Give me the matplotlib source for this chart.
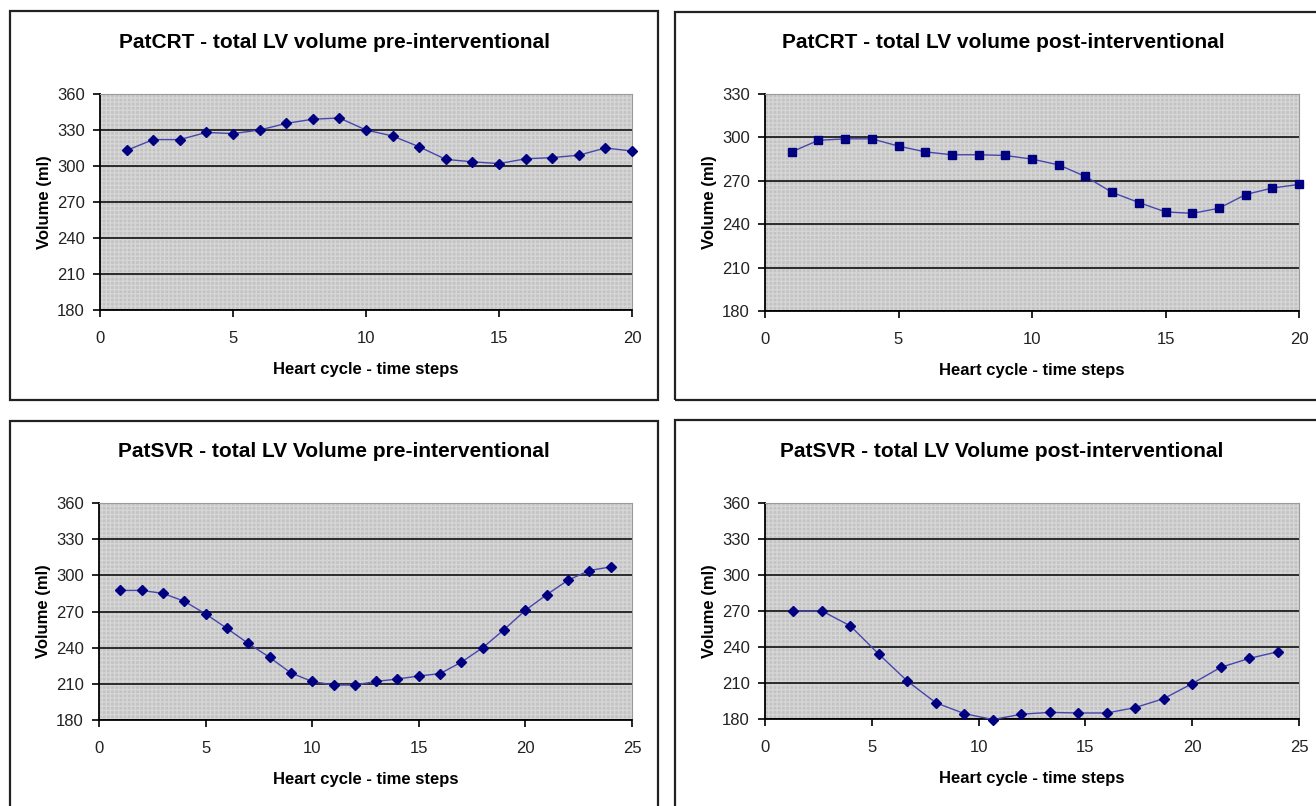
import matplotlib
matplotlib.use("Agg")
import matplotlib.pyplot as plt
from matplotlib.patches import Rectangle

plt.rcParams["font.family"] = ["Liberation Sans", "DejaVu Sans"]

# PatCRT pre-interventional
crt_pre_steps = list(range(1, 21))
crt_pre_volume = [313, 322, 322, 328, 327, 330, 335.5, 339, 340, 330,
                  325, 316, 305.5, 303.5, 302, 306, 307, 309, 315, 312.5]

# PatCRT post-interventional
crt_post_steps = list(range(1, 21))
crt_post_volume = [290, 298, 299, 299, 294, 290, 288, 288, 287.5, 285,
                   281, 273, 262, 255, 248.5, 247.5, 251, 260.5, 265, 267.5]

# PatSVR pre-interventional
svr_pre_steps = list(range(1, 25))
svr_pre_volume = [287.5, 287.5, 285, 278.5, 268, 256, 243.5, 232, 219, 212,
                  209, 209, 212, 214, 216.5, 218.5, 228, 240, 255, 271,
                  284, 296, 304, 307]

# PatSVR post-interventional (18 frames spread over 24 steps)
svr_post_steps = [1.33, 2.67, 4.0, 5.33, 6.67, 8.0, 9.33, 10.67, 12.0,
                  13.33, 14.67, 16.0, 17.33, 18.67, 20.0, 21.33, 22.67, 24.0]
svr_post_volume = [270, 270, 257.5, 234, 211.5, 193.5, 184.5, 179.5, 184,
                   185.5, 185, 185, 189.5, 197, 209.5, 223, 230.5, 236]

titles = [
    "PatCRT - total LV volume pre-interventional",
    "PatCRT - total LV volume post-interventional",
    "PatSVR - total LV Volume pre-interventional",
    "PatSVR - total LV Volume post-interventional",
]
x_label = "Heart cycle - time steps"
y_label = "Volume (ml)"

W, H = 1316, 806


def px_rect(x0, y0, x1, y1):
    """pixel box (top-down) -> figure fraction [left, bottom, width, height]"""
    return [x0 / W, 1 - y1 / H, (x1 - x0) / W, (y1 - y0) / H]


fig = plt.figure(figsize=(W / 100, H / 100), dpi=100)

# chart frames
for box in [(10, 11, 658, 400), (675, 12, 1340, 400),
            (10, 421, 658, 830), (675, 420, 1340, 830)]:
    l, b, w, h = px_rect(*box)
    fig.patches.append(Rectangle((l, b), w, h, transform=fig.transFigure,
                                 fill=False, edgecolor="#222222", linewidth=1.6))

# (axes box, x, y, marker, marker size, y range, x max, title x in axes coords)
panels = [
    (px_rect(100, 94, 632, 310), crt_pre_steps, crt_pre_volume, "D", 5.0, (180, 360), 20, 0.44),
    (px_rect(765, 94, 1299, 311), crt_post_steps, crt_post_volume, "s", 6.0, (180, 330), 20, 0.446),
    (px_rect(99, 503, 632, 720), svr_pre_steps, svr_pre_volume, "D", 5.0, (180, 360), 25, 0.44),
    (px_rect(765, 503, 1299, 719), svr_post_steps, svr_post_volume, "D", 5.0, (180, 360), 25, 0.443),
]

for (rect, xs, ys, marker, ms, ylim, xmax, tx), title in zip(panels, titles):
    ax = fig.add_axes(rect)
    ax.set_facecolor("#c3c3c3")
    ax.add_patch(Rectangle((0, 0), 1, 1, transform=ax.transAxes, facecolor="none",
                           edgecolor="#d6d6d6", hatch="++++", linewidth=0, zorder=0.5))
    ax.plot(xs, ys, color="#4646b0", linewidth=1.0, marker=marker, markersize=ms,
            markerfacecolor="#000080", markeredgecolor="#000080", zorder=3,
            clip_on=False)
    ax.set_xlim(0, xmax)
    ax.set_ylim(*ylim)
    ax.set_xticks(range(0, xmax + 1, 5))
    ax.set_yticks(range(ylim[0], ylim[1] + 1, 30))
    ax.yaxis.grid(True, color="#2b2b2b", linewidth=1.4)
    ax.set_axisbelow(True)
    for side in ["top", "right"]:
        ax.spines[side].set_color("#9a9a9a")
        ax.spines[side].set_linewidth(0.8)
    for side in ["left", "bottom"]:
        ax.spines[side].set_color("black")
        ax.spines[side].set_linewidth(1.3)
    ax.tick_params(axis="both", direction="out", length=5, width=1.2,
                   labelsize=12, colors="black", labelcolor="#222222")
    ax.tick_params(axis="x", pad=10)
    ax.tick_params(axis="y", pad=6)
    ax.set_title(title, fontsize=15, fontweight="bold", pad=33, x=tx)
    ax.set_xlabel(x_label, fontsize=12, fontweight="bold")
    ax.set_ylabel(y_label, fontsize=12, fontweight="bold")
    ax.xaxis.set_label_coords(0.5, -0.24)
    ax.yaxis.set_label_coords(-0.09, 0.5)

plt.savefig("out.png", dpi=100)
plt.close()
